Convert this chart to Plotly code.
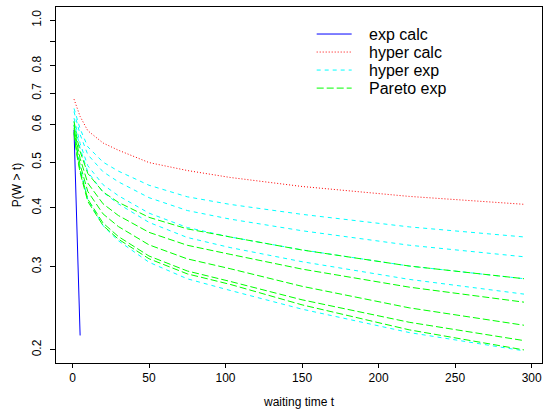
import plotly.graph_objects as go

# waiting time grid (x values)
t_grid = [1, 3, 5, 10, 20, 30, 50, 75, 103, 150, 220, 295]
t_exp = [1, 2, 3, 4, 5]

# exp calc (blue solid)
p_exp_calc = [0.585, 0.455, 0.354, 0.276, 0.2145]

# hyper calc (red dotted)
p_hyper_calc = [0.680, 0.648, 0.625, 0.583, 0.549, 0.530, 0.499, 0.480, 0.464, 0.444, 0.423, 0.407]

# hyper exp (cyan dashed), five runs
hyper_exp_1 = [0.650, 0.6145, 0.5884, 0.539, 0.500, 0.4786, 0.4467, 0.4222, 0.4068, 0.3875, 0.3645, 0.347]
hyper_exp_2 = [0.640, 0.6008, 0.5722, 0.5187, 0.477, 0.4542, 0.4204, 0.3948, 0.3786, 0.3577, 0.3333, 0.315]
hyper_exp_3 = [0.620, 0.5783, 0.5479, 0.4914, 0.4478, 0.4244, 0.3898, 0.3634, 0.347, 0.3258, 0.3011, 0.283]
hyper_exp_4 = [0.610, 0.5664, 0.535, 0.4768, 0.4318, 0.4079, 0.3726, 0.3461, 0.3295, 0.3075, 0.2821, 0.2625]
hyper_exp_5 = [0.600, 0.5315, 0.4863, 0.417, 0.3665, 0.3406, 0.3067, 0.2829, 0.2673, 0.2439, 0.2176, 0.199]

# Pareto exp (green long-dashed), five runs
pareto_exp_1 = [0.610, 0.5603, 0.5266, 0.4732, 0.4322, 0.4109, 0.3819, 0.361, 0.347, 0.3256, 0.3011, 0.283]
pareto_exp_2 = [0.600, 0.5457, 0.509, 0.4514, 0.4079, 0.3853, 0.3549, 0.3332, 0.3188, 0.2966, 0.2716, 0.2524]
pareto_exp_3 = [0.590, 0.5323, 0.4936, 0.4333, 0.3883, 0.3651, 0.3339, 0.3118, 0.2972, 0.2727, 0.2455, 0.2255]
pareto_exp_4 = [0.580, 0.5197, 0.4797, 0.4174, 0.3713, 0.3477, 0.3162, 0.2939, 0.2793, 0.2553, 0.2288, 0.2092]
pareto_exp_5 = [0.575, 0.5148, 0.4749, 0.4127, 0.3669, 0.3433, 0.312, 0.2898, 0.2753, 0.2491, 0.2205, 0.1999]

hyper_exp_runs = [hyper_exp_1, hyper_exp_2, hyper_exp_3, hyper_exp_4, hyper_exp_5]
pareto_exp_runs = [pareto_exp_1, pareto_exp_2, pareto_exp_3, pareto_exp_4, pareto_exp_5]

legend_labels = ["exp calc", "hyper calc", "hyper exp", "Pareto exp"]
legend_colors = ["#0000FF", "#FF0000", "#00FFFF", "#00FF00"]
legend_dashes = ["solid", "1px,2px", "4px,4px", "7px,3px"]

x_title = "waiting time t"
y_title = "P(W > t)"
x_ticks = [0, 50, 100, 150, 200, 250, 300]
y_ticks = [0.2, 0.3, 0.4, 0.5, 0.6, 0.7, 0.8, 0.9, 1.0]
y_ticktext = ["0.2", "0.3", "0.4", "0.5", "0.6", "0.7", "0.8", "", "1.0"]

FONT = "Liberation Sans, Arial, Helvetica, sans-serif"

fig = go.Figure()
fig.add_trace(go.Scatter(x=t_exp, y=p_exp_calc, mode="lines",
                         line=dict(color=legend_colors[0], width=1, dash=legend_dashes[0]),
                         showlegend=False, name=legend_labels[0]))
fig.add_trace(go.Scatter(x=t_grid, y=p_hyper_calc, mode="lines",
                         line=dict(color=legend_colors[1], width=1, dash=legend_dashes[1]),
                         showlegend=False, name=legend_labels[1]))
for run in hyper_exp_runs:
    fig.add_trace(go.Scatter(x=t_grid, y=run, mode="lines",
                             line=dict(color=legend_colors[2], width=1, dash=legend_dashes[2]),
                             showlegend=False, name=legend_labels[2]))
for run in pareto_exp_runs:
    fig.add_trace(go.Scatter(x=t_grid, y=run, mode="lines",
                             line=dict(color=legend_colors[3], width=1, dash=legend_dashes[3]),
                             showlegend=False, name=legend_labels[3]))

# legend (drawn like R's legend without border)
row_y = [0.9241, 0.8735, 0.8229, 0.7722]
for lab, col, dsh, yy in zip(legend_labels, legend_colors, legend_dashes, row_y):
    fig.add_shape(type="line", xref="paper", yref="paper", x0=0.5364, x1=0.6084, y0=yy, y1=yy,
                  line=dict(color=col, width=1, dash=dsh))
    fig.add_annotation(xref="paper", yref="paper", x=0.643, y=yy, text=lab, showarrow=False,
                       xanchor="left", yanchor="middle", borderpad=0,
                       font=dict(size=16, color="black", family=FONT))

fig.update_layout(
    width=544, height=409,
    margin=dict(l=56, r=2, t=7, b=46),
    paper_bgcolor="white", plot_bgcolor="white",
    font=dict(family=FONT, size=12, color="black"),
    showlegend=False,
)
fig.update_xaxes(range=[-10.76, 306.76], tickvals=x_ticks, ticks="outside", ticklen=4,
                 tickcolor="black", showline=True, linecolor="black", linewidth=1, mirror=True,
                 showgrid=False, zeroline=False, title=dict(text=x_title, font=dict(size=12), standoff=14),
                 tickfont=dict(size=12))
fig.update_yaxes(type="log", range=[-0.72693, 0.02796], tickvals=y_ticks, ticktext=y_ticktext,
                 ticks="outside", ticklen=5, tickcolor="black", tickangle=-90,
                 showline=True, linecolor="black", linewidth=1, mirror=True,
                 showgrid=False, zeroline=False, title=dict(text=y_title, font=dict(size=12), standoff=6),
                 tickfont=dict(size=12), ticklabelstandoff=4)

fig.write_html("out.html")
